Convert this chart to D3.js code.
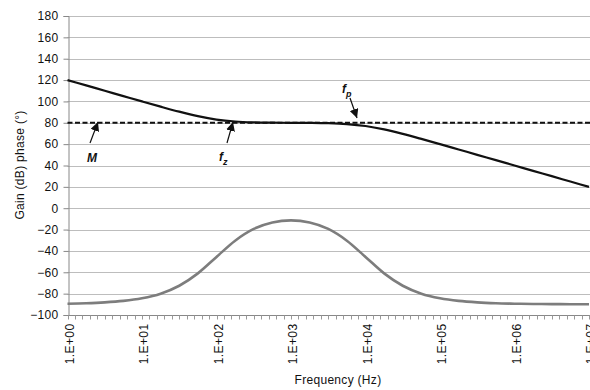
<!DOCTYPE html>
<html><head><meta charset="utf-8">
<script src="https://cdn.jsdelivr.net/npm/d3@7"></script>
<style>
body{margin:0;background:#fff;}
text{font-family:"Liberation Sans",Arial,sans-serif;fill:#111;}
</style></head>
<body><svg id="c" width="590" height="390"></svg>
<script>
// frequency exponents (log10 Hz)
const freqExp = [0,0.25,0.5,0.75,1,1.25,1.5,1.75,2,2.25,2.5,2.75,3,3.25,3.5,3.75,4,4.25,4.5,4.75,5,5.25,5.5,5.75,6,6.25,6.5,6.75,7];
// gain in dB (black line)
const gainDb = [120,115,110,105,100,95.1,90.4,86.2,83,81.2,80.4,80.1,80,79.9,79.6,78.8,77,73.8,69.6,64.9,60,55,50,45,40,35,30,25,20];
// phase in degrees (grey line)
const phaseDeg = [-89.4,-89,-88.2,-86.8,-84.3,-80,-72.6,-61,-45.6,-30.4,-19.4,-13.3,-11.4,-13.3,-19.4,-30.4,-45.6,-61,-72.6,-80,-84.3,-86.8,-88.2,-89,-89.4,-89.7,-89.8,-89.9,-89.9];
// mid-band gain M (dashed)
const midGain = [80, 80];
const yTicks = [180,160,140,120,100,80,60,40,20,0,-20,-40,-60,-80,-100];
const xTickLabels = ["1.E+00","1.E+01","1.E+02","1.E+03","1.E+04","1.E+05","1.E+06","1.E+07"];
const annotations = [
  {label:"M", sub:"", tx:87, ty:162, x1:90, y1:143, x2:98, y2:122},
  {label:"f", sub:"z", tx:219, ty:161, x1:227, y1:143, x2:233, y2:122},
  {label:"f", sub:"p", tx:342, ty:93, x1:350, y1:98, x2:357, y2:118}
];

const svg = d3.select("#c");
const L = 67.5, R = 589, T = 16, B = 315;
const x = d3.scaleLinear().domain([0,7]).range([L,R]);
const y = d3.scaleLinear().domain([-100,180]).range([B,T]);

// gridlines
svg.append("g").selectAll("line").data(yTicks.filter(d=>d!==-100)).join("line")
  .attr("x1",L).attr("x2",590).attr("y1",d=>Math.round(y(d))+0.5).attr("y2",d=>Math.round(y(d))+0.5)
  .attr("stroke","#bdbdbd").attr("stroke-width",1);

// axes
const yAxis = d3.axisLeft(y).tickValues(yTicks).tickSize(5).tickFormat(d=>d<0?"\u2212"+Math.abs(d):d);
const gy = svg.append("g").attr("transform",`translate(${Math.round(L)+0.5},0)`).call(yAxis);
gy.select(".domain").attr("stroke","#888");
gy.selectAll(".tick line").attr("stroke","#888");
gy.selectAll(".tick text").attr("font-size",12).attr("letter-spacing","0.3px").attr("x",-10).attr("fill","#111");

const xMinor = d3.range(0,70.5,1).map(i=>i/10);
const gx = svg.append("g").attr("transform",`translate(0,${B+0.5})`);
gx.append("line").attr("x1",L).attr("x2",590).attr("stroke","#888");
gx.selectAll("line.mt").data(xMinor).join("line").attr("class","mt")
  .attr("x1",d=>Math.round(x(d))+0.5).attr("x2",d=>Math.round(x(d))+0.5).attr("y1",0).attr("y2",4)
  .attr("stroke","#999");
gx.selectAll("text").data(xTickLabels).join("text")
  .attr("transform",(d,i)=>`translate(${x(i)+6},8) rotate(-90)`)
  .attr("text-anchor","end").attr("font-size",12).attr("letter-spacing","0.4px")
  .text(d=>d);

// axis titles
svg.append("text").attr("x",338).attr("y",384).attr("text-anchor","middle").attr("font-size",12).attr("letter-spacing","0.3px").text("Frequency (Hz)");
svg.append("text").attr("transform","translate(24,165) rotate(-90)").attr("text-anchor","middle").attr("font-size",12).attr("letter-spacing","0.3px").text("Gain (dB) phase (\u00b0)");

// lines
const line = d3.line().x(d=>x(d[0])).y(d=>y(d[1])).curve(d3.curveMonotoneX);
svg.append("path").datum(freqExp.map((e,i)=>[e,phaseDeg[i]])).attr("d",line)
  .attr("fill","none").attr("stroke","#7d7d7d").attr("stroke-width",2.6);
svg.append("path").datum([[0,midGain[0]],[7.1,midGain[1]]]).attr("d",d3.line().x(d=>x(d[0])).y(d=>y(d[1])))
  .attr("fill","none").attr("stroke","#111").attr("stroke-width",2).attr("stroke-dasharray","5,2.5");
svg.append("path").datum(freqExp.map((e,i)=>[e,gainDb[i]])).attr("d",line)
  .attr("fill","none").attr("stroke","#111").attr("stroke-width",2.2);

// annotations
svg.append("defs").append("marker").attr("id","ah").attr("viewBox","0 0 10 10").attr("refX",10).attr("refY",5)
  .attr("markerWidth",9).attr("markerHeight",9).attr("markerUnits","userSpaceOnUse").attr("orient","auto")
  .append("path").attr("d","M0,0L10,5L0,10z").attr("fill","#111");
annotations.forEach(a=>{
  svg.append("line").attr("x1",a.x1).attr("y1",a.y1).attr("x2",a.x2).attr("y2",a.y2)
    .attr("stroke","#111").attr("stroke-width",1.2).attr("marker-end","url(#ah)");
  const t = svg.append("text").attr("x",a.tx).attr("y",a.ty).attr("font-size",12).attr("font-style","italic").attr("font-weight","bold").text(a.label);
  if(a.sub) t.append("tspan").attr("dy",4).attr("font-size",9).text(a.sub);
});
</script></body></html>
